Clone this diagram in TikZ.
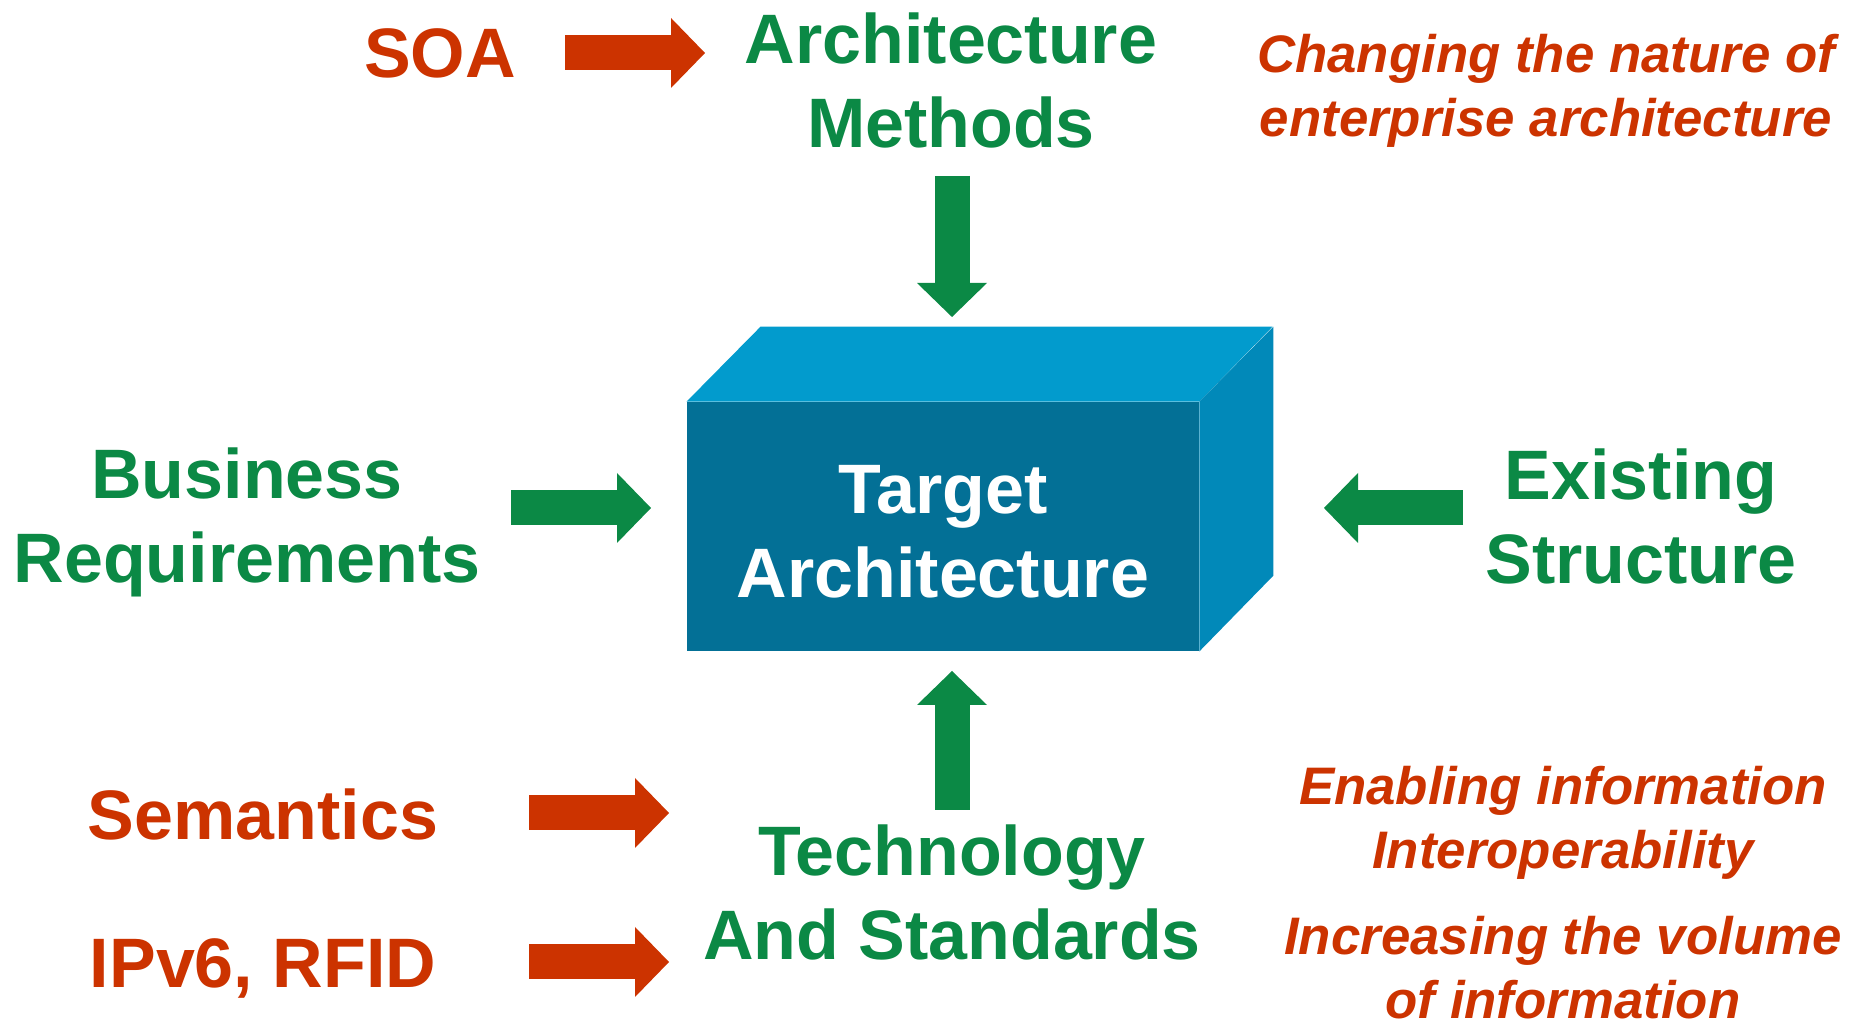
\documentclass[tikz,border=0pt]{standalone}
\usepackage{fontspec}
\setmainfont{Liberation Sans}
\usetikzlibrary{arrows.meta,positioning}

\definecolor{greentext}{RGB}{11,137,69}
\definecolor{redtext}{RGB}{204,51,0}
\definecolor{boxfront}{RGB}{3,112,150}
\definecolor{boxtop}{RGB}{2,155,205}
\definecolor{boxside}{RGB}{1,137,185}

\tikzset{
	biglabel/.style		= {align=center, font=\fontsize{35}{42}\selectfont\bfseries},
	greenlabel/.style	= {biglabel, text=greentext},
	redlabel/.style		= {biglabel, text=redtext},
	notelabel/.style	= {align=center, text=redtext, font=\fontsize{26.4}{32}\selectfont\bfseries\itshape},
	blockarrow/.style	= {line width=17.5pt, -{Triangle[width=35pt, length=17pt, line width=0pt]}},
	greenarrow/.style	= {blockarrow, draw=greentext, color=greentext},
	redarrow/.style		= {blockarrow, draw=redtext, color=redtext}
}

\begin{document}
\begin{tikzpicture}[x=0.5pt, y=-0.5pt]
		%
		\useasboundingbox (0,0) rectangle (1860,1020);
		%
		% the box
		\node
		[
			fill			= boxfront,
			minimum width	= 256pt,
			minimum height	= 124.5pt,
			inner sep		= 0pt,
			biglabel,
			text			= white
		] (target) at (943,526.5) {};
		\fill[boxtop] (target.north west) -- ++(74,-75) -- ++(512,0) -- (target.north east) -- cycle;
		\fill[boxside] (target.north east) -- ++(74,-75) -- ++(0,249) -- (target.south east) -- cycle;
		\node[biglabel, text=white] (targetText) at (943,532) {Target\\Architecture};
		%
		% labels
		\node[greenlabel] (methods) at (951,80) {Architecture\\Methods};
		\node[redlabel] (soa) at (440,53) {SOA};
		\node[notelabel] (nature) at (1546,91) {Changing the nature of\\enterprise architecture};
		\node[greenlabel] (business) at (247,522) {Business\\Requirements};
		\node[greenlabel] (existing) at (1641,516) {Existing\\Structure};
		\node[greenlabel] (technology) at (952,892) {Technology\\And Standards};
		\node[redlabel] (semantics) at (263,814) {Semantics};
		\node[redlabel] (ipv6) at (263,968) {IPv6, RFID};
		\node[notelabel] (enabling) at (1563,823) {Enabling information\\Interoperability};
		\node[notelabel] (increasing) at (1563,968) {Increasing the volume\\of information};
		%
		% arrow ends
		\coordinate (soaTail) at (565,53);
		\coordinate (soaTip) at (705,53);
		\coordinate (methodsTail) at (952,176);
		\coordinate (methodsTip) at (952,317);
		\coordinate (businessTail) at (511,508);
		\coordinate (businessTip) at (651,508);
		\coordinate (existingTail) at (1463,508);
		\coordinate (existingTip) at (1324,508);
		\coordinate (technologyTail) at (952,810);
		\coordinate (technologyTip) at (952,671);
		\coordinate (semanticsTail) at (529,813);
		\coordinate (semanticsTip) at (669,813);
		\coordinate (ipvTail) at (529,962);
		\coordinate (ipvTip) at (669,962);
		%
		% arrows
		\draw[redarrow] (soaTail) -- (soaTip);
		\draw[greenarrow] (methodsTail) -- (methodsTip);
		\draw[greenarrow] (businessTail) -- (businessTip);
		\draw[greenarrow] (existingTail) -- (existingTip);
		\draw[greenarrow] (technologyTail) -- (technologyTip);
		\draw[redarrow] (semanticsTail) -- (semanticsTip);
		\draw[redarrow] (ipvTail) -- (ipvTip);
		%
	\end{tikzpicture}
\end{document}
